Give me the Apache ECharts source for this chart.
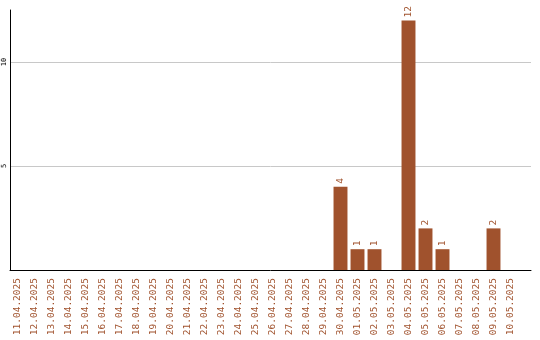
<!DOCTYPE html>
<html>
<head>
<meta charset="utf-8">
<script src="https://cdn.jsdelivr.net/npm/echarts@6/dist/echarts.min.js"></script>
<style>
  html, body { margin: 0; padding: 0; background: #fff; }
  #chart { width: 540px; height: 340px; }
</style>
</head>
<body>
<div id="chart"></div>
<script>
const dates = [
  "11.04.2025", "12.04.2025", "13.04.2025", "14.04.2025", "15.04.2025",
  "16.04.2025", "17.04.2025", "18.04.2025", "19.04.2025", "20.04.2025",
  "21.04.2025", "22.04.2025", "23.04.2025", "24.04.2025", "25.04.2025",
  "26.04.2025", "27.04.2025", "28.04.2025", "29.04.2025", "30.04.2025",
  "01.05.2025", "02.05.2025", "03.05.2025", "04.05.2025", "05.05.2025",
  "06.05.2025", "07.05.2025", "08.05.2025", "09.05.2025", "10.05.2025"
];
const counts = [
  0, 0, 0, 0, 0, 0, 0, 0, 0, 0,
  0, 0, 0, 0, 0, 0, 0, 0, 0, 4,
  1, 1, 0, 12, 2, 1, 0, 0, 2, 0
];
const yMax = 12.5;
const yStep = 5;

const brown = "#a0522d";
const mono = "DejaVu Sans Mono";

const chart = echarts.init(document.getElementById("chart"), null, { renderer: "canvas" });

chart.setOption({
  animation: false,
  backgroundColor: "#fff",
  grid: [
    // frame: axis lines, gridlines, y labels
    { left: 10, right: 9, top: 10, height: 260 },
    // bars
    { left: 9, width: 510, top: 10, height: 260 }
  ],
  xAxis: [
    {
      gridIndex: 0,
      type: "value",
      min: 0,
      max: 1,
      axisLine: { show: true, onZero: false, lineStyle: { color: "#000", width: 1 } },
      axisTick: { show: false },
      axisLabel: { show: false },
      splitLine: { show: false }
    },
    {
      gridIndex: 1,
      type: "category",
      data: dates,
      axisLine: { show: false },
      axisTick: { show: false },
      axisLabel: {
        interval: 0,
        rotate: 90,
        margin: 8,
        color: brown,
        fontFamily: mono,
        fontSize: 9.5
      }
    }
  ],
  yAxis: [
    {
      gridIndex: 0,
      type: "value",
      min: 0,
      max: yMax,
      interval: yStep,
      axisLine: { show: true, onZero: false, lineStyle: { color: "#000", width: 1 } },
      axisTick: { show: false },
      axisLabel: {
        rotate: 90,
        margin: 2,
        color: "#000",
        fontFamily: mono,
        fontSize: 7,
        showMinLabel: false,
        showMaxLabel: false
      },
      splitLine: {
        show: true,
        showMinLine: false,
        showMaxLine: false,
        lineStyle: { color: "#c8c8c8", width: 1 }
      }
    },
    {
      gridIndex: 1,
      type: "value",
      min: 0,
      max: yMax,
      show: false,
      splitLine: { show: false }
    }
  ],
  series: [
    {
      type: "bar",
      xAxisIndex: 1,
      yAxisIndex: 1,
      data: counts,
      barCategoryGap: "18%",
      itemStyle: { color: brown },
      label: {
        show: true,
        position: "top",
        rotate: 90,
        align: "left",
        verticalAlign: "middle",
        distance: 3,
        color: brown,
        fontFamily: mono,
        fontSize: 9.5,
        formatter: (p) => (p.value ? String(p.value) : "")
      }
    }
  ]
});
</script>
</body>
</html>
